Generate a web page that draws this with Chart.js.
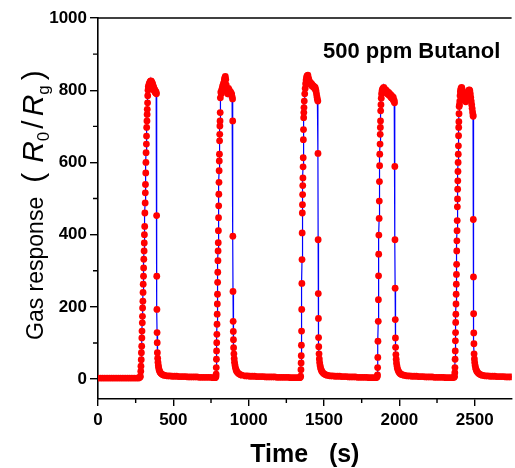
<!DOCTYPE html>
<html lang="en">
<head>
<meta charset="UTF-8" />
<title>Gas response - 500 ppm Butanol</title>
<script src="https://cdn.jsdelivr.net/npm/chart.js"></script>
<style>
  html, body { margin: 0; padding: 0; background: #fff; overflow: hidden; }
  #chart { display: block; }
</style>
</head>
<body>
<canvas id="chart" width="515" height="468"></canvas>
<script>
  // axis ticks
  const xTicks = [0, 500, 1000, 1500, 2000, 2500];
  const xMinorTicks = [250, 750, 1250, 1750, 2250];
  const yTicks = [0, 200, 400, 600, 800, 1000];
  const yMinorTicks = [100, 300, 500, 700, 900];

  // baseline between the pulses (time in s, response)
  const baseTime = [
    0, 15, 30, 45, 60, 75, 90, 105, 120, 135, 150, 165, 180, 195, 210, 225, 240, 255, 270,
    462, 477, 492, 507, 522, 537, 552, 567, 582, 597, 612, 627, 642, 657, 672, 687, 702, 717, 732, 747, 762, 777,
    978, 993, 1008, 1023, 1038, 1053, 1068, 1083, 1098, 1113, 1128, 1143, 1158, 1173, 1188, 1203, 1218, 1233, 1248, 1263, 1278, 1293, 1308, 1323, 1338,
    1543, 1558, 1573, 1588, 1603, 1618, 1633, 1648, 1663, 1678, 1693, 1708, 1723, 1738, 1753, 1768, 1783, 1798, 1813, 1828, 1843,
    2053, 2068, 2083, 2098, 2113, 2128, 2143, 2158, 2173, 2188, 2203, 2218, 2233, 2248, 2263, 2278, 2293, 2308, 2323, 2338, 2353,
    2572, 2587, 2602, 2617, 2632, 2647, 2662, 2677, 2692, 2707, 2722, 2737, 2752
  ];
  const baseResp = [
    3, 3, 3, 3, 3, 3, 3, 3, 3, 3, 3, 3, 3, 3, 3, 3, 3, 3, 3,
    9, 9, 8, 8, 8, 7, 7, 7, 7, 6, 6, 6, 6, 6, 5, 5, 5, 5, 5, 5, 4, 4,
    9, 9, 8, 8, 8, 7, 7, 7, 7, 6, 6, 6, 6, 6, 5, 5, 5, 5, 5, 5, 4, 4, 4, 4, 4,
    9, 9, 8, 8, 8, 7, 7, 7, 6, 6, 6, 6, 5, 5, 5, 5, 5, 4, 4, 4, 4,
    9, 9, 8, 8, 8, 7, 7, 7, 6, 6, 6, 6, 5, 5, 5, 5, 5, 4, 4, 4, 4,
    9, 9, 8, 8, 8, 7, 7, 7, 7, 6, 6, 6, 6
  ];

  // pulse 1
  const time1 = [
    279, 281, 284, 285, 287, 288, 290, 291, 292, 294, 295, 296, 298, 299, 300, 302, 303, 304, 306, 307, 308,
    310, 311, 313, 314, 315, 317, 318, 319, 321, 322, 323, 325, 326, 327, 329, 330,
    332, 334, 336, 338, 340, 342, 344, 346, 348, 350, 352, 354, 356, 358, 360, 362, 364, 366, 368, 370,
    372, 374, 376, 378, 380, 382, 384, 386, 388,
    389, 390, 391, 392, 393, 394, 396, 398, 400, 402, 405, 408, 412, 417, 423, 430, 438, 447
  ];
  const resp1 = [
    5, 8, 22, 36, 54, 73, 91, 114, 133, 156, 174, 197, 216, 240, 263, 285, 308, 332, 355, 377, 400,
    423, 460, 488, 516, 539, 571, 600, 627, 651, 673, 697, 715, 733, 747, 765, 785,
    800, 810, 806, 816, 813, 820, 816, 824, 819, 826, 821, 825, 817, 822, 814, 818, 809, 813, 804, 808,
    799, 803, 797, 800, 794, 797, 792, 795, 790,
    453, 285, 193, 129, 101, 73, 58, 47, 39, 33, 27, 23, 19, 16, 14, 12, 11, 10
  ];

  // pulse 2
  const time2 = [
    781, 783, 784, 785, 786, 787, 788, 789, 790, 791, 792, 793, 794, 795, 796, 797, 798, 799, 800, 801,
    802, 803, 804, 805, 806, 807, 808, 809, 810, 811, 812,
    815, 818, 821, 824, 827, 830, 833, 836, 839, 842, 845, 848, 851, 854, 857, 860, 863, 866, 869, 872,
    875, 878, 881, 884, 887, 890, 893,
    894, 895, 896, 897, 898, 899, 900, 902, 904, 906, 909, 912, 916, 920, 925, 931, 938, 946, 955
  ];
  const resp2 = [
    5, 8, 14, 32, 55, 78, 101, 124, 152, 180, 208, 235, 268, 296, 328, 355, 378, 411, 447, 480,
    512, 545, 577, 604, 623, 660, 678, 701, 715, 738, 779,
    795, 790, 800, 805, 812, 808, 818, 822, 830, 835, 838, 830, 815, 800, 795, 790, 800, 805, 798, 800,
    795, 792, 795, 788, 790, 782, 776,
    715, 396, 243, 160, 132, 109, 87, 70, 57, 47, 39, 32, 26, 22, 19, 16, 14, 12, 11
  ];

  // pulse 3
  const time3 = [
    1343, 1345, 1347, 1348, 1349, 1350, 1351, 1352, 1353, 1354, 1355, 1356, 1357, 1358, 1359, 1360,
    1361, 1362, 1363, 1364, 1365, 1366, 1367,
    1369, 1372, 1375, 1378, 1381, 1384, 1387, 1390, 1393, 1396, 1399, 1402, 1405, 1408, 1411, 1414,
    1417, 1420, 1423, 1426, 1429, 1432, 1435, 1438, 1441, 1444, 1447, 1450, 1453, 1456, 1459,
    1460, 1461, 1462, 1463, 1464, 1465, 1467, 1469, 1471, 1474, 1477, 1481, 1485, 1490, 1496, 1503, 1511, 1520, 1530
  ];
  const resp3 = [
    5, 8, 26, 45, 65, 94, 133, 193, 265, 331, 405, 460, 483, 511, 536, 557,
    588, 613, 663, 691, 724, 738, 752,
    770, 790, 805, 818, 828, 835, 840, 838, 842, 835, 830, 826, 822, 818, 820, 815,
    818, 812, 815, 810, 812, 808, 810, 805, 808, 802, 798, 790, 782, 775, 770,
    625, 386, 237, 168, 115, 90, 70, 56, 46, 38, 31, 26, 22, 19, 16, 14, 12, 11, 10
  ];

  // pulse 4
  const time4 = [
    1851, 1853, 1855, 1856, 1857, 1858, 1860, 1861, 1862, 1863, 1864, 1866, 1867, 1868, 1869, 1870,
    1872, 1873, 1874, 1875, 1876,
    1878, 1880, 1882, 1885, 1888, 1891, 1894, 1897, 1900, 1903, 1906, 1909, 1912, 1915, 1918, 1921,
    1924, 1927, 1930, 1933, 1936, 1939, 1942, 1945, 1948, 1951, 1954, 1957, 1960, 1963, 1966, 1968,
    1970, 1971, 1972, 1973, 1974, 1975, 1977, 1979, 1981, 1984, 1987, 1991, 1995, 2000, 2006, 2013, 2021, 2030, 2040
  ];
  const resp4 = [
    5, 8, 12, 32, 60, 105, 160, 220, 286, 346, 399, 445, 493, 547, 591, 623,
    651, 678, 697, 715, 743,
    760, 778, 790, 798, 802, 805, 800, 808, 803, 798, 802, 795, 800, 792, 797, 790,
    795, 788, 793, 786, 790, 784, 788, 780, 785, 778, 782, 775, 780, 770, 772, 765,
    589, 386, 252, 165, 114, 88, 68, 55, 45, 37, 30, 25, 21, 18, 15, 13, 12, 11, 10
  ];

  // pulse 5
  const time5 = [
    2364, 2366, 2368, 2369, 2370, 2371, 2372, 2373, 2374, 2375, 2376, 2377, 2378, 2379, 2380, 2381,
    2382, 2383, 2384, 2385, 2386, 2387, 2388, 2389, 2390, 2391, 2392, 2393, 2394, 2395, 2396, 2397,
    2399, 2401, 2403, 2405, 2407, 2409, 2411, 2413, 2415, 2417, 2420, 2423, 2426, 2429, 2432, 2435,
    2438, 2441, 2444, 2447, 2450, 2453, 2456, 2459, 2462, 2465, 2468, 2471, 2474, 2477, 2480, 2483, 2486, 2489,
    2490, 2491, 2492, 2493, 2494, 2495, 2496, 2498, 2500, 2503, 2506, 2510, 2514, 2519, 2525, 2532, 2540, 2549, 2559
  ];
  const resp5 = [
    5, 8, 18, 32, 55, 78, 106, 129, 157, 180, 208, 235, 263, 290, 318, 355,
    383, 411, 439, 477, 499, 526, 549, 575, 600, 623, 646, 674, 697, 713, 735, 755,
    760, 770, 785, 795, 800, 805, 802, 808, 806, 800, 795, 790, 785, 780, 775, 772,
    770, 768, 775, 782, 788, 792, 795, 798, 800, 801, 798, 790, 780, 770, 760, 750, 740, 732,
    728, 442, 283, 181, 128, 98, 70, 56, 46, 38, 31, 26, 22, 19, 16, 14, 12, 11, 10
  ];

  const FONT = '"Liberation Sans", Arial, sans-serif';

  const points = [];
  function addSeries(times, values) {
    times.forEach((t, i) => points.push({ x: t, y: values[i] }));
  }
  addSeries(baseTime, baseResp);
  addSeries(time1, resp1);
  addSeries(time2, resp2);
  addSeries(time3, resp3);
  addSeries(time4, resp4);
  addSeries(time5, resp5);
  points.sort((a, b) => a.x - b.x);

  // minor ticks, top frame, annotation and the y title with sub/italics
  const extras = {
    id: 'extras',
    afterDraw(chart) {
      const ctx = chart.ctx;
      const area = chart.chartArea;
      const xs = chart.scales.x;
      const ys = chart.scales.y;
      ctx.save();
      ctx.strokeStyle = '#000';
      ctx.lineWidth = 1.6;
      ctx.beginPath();
      ctx.moveTo(area.left - 0.8, area.top);
      ctx.lineTo(area.right, area.top);
      ctx.stroke();

      ctx.lineWidth = 1.4;
      ctx.beginPath();
      yMinorTicks.forEach(v => {
        const p = ys.getPixelForValue(v);
        ctx.moveTo(area.left - 5, p);
        ctx.lineTo(area.left, p);
      });
      xMinorTicks.forEach(v => {
        const p = xs.getPixelForValue(v);
        ctx.moveTo(p, area.bottom);
        ctx.lineTo(p, area.bottom + 4);
      });
      ctx.stroke();

      ctx.fillStyle = '#000';
      ctx.font = 'bold 22px ' + FONT;
      ctx.textAlign = 'left';
      ctx.textBaseline = 'alphabetic';
      ctx.fillText('500 ppm Butanol', 323, 58);

      // y title, drawn rotated
      const runs = [
        { t: 'Gas response', f: '23px ' + FONT, dy: 0, gap: 14 },
        { t: '(', f: '30px ' + FONT, dy: 0, gap: 10 },
        { t: 'R', f: 'italic 30px ' + FONT, dy: 0, gap: 0 },
        { t: '0', f: '17px ' + FONT, dy: 6, gap: 3 },
        { t: '/', f: '30px ' + FONT, dy: 0, gap: 4 },
        { t: 'R', f: 'italic 30px ' + FONT, dy: 0, gap: 0 },
        { t: 'g', f: '17px ' + FONT, dy: 6, gap: 5 },
        { t: ')', f: '30px ' + FONT, dy: 0, gap: 0 }
      ];
      ctx.translate(43, 340);
      ctx.rotate(-Math.PI / 2);
      let pos = 0;
      runs.forEach(r => {
        ctx.font = r.f;
        ctx.fillText(r.t, pos, r.dy);
        pos += ctx.measureText(r.t).width + r.gap;
      });
      ctx.restore();
    }
  };

  new Chart(document.getElementById('chart'), {
    type: 'scatter',
    data: {
      datasets: [{
        data: points,
        showLine: true,
        borderColor: '#0000ff',
        borderWidth: 1.2,
        pointRadius: 3.4,
        pointHoverRadius: 3.4,
        pointBackgroundColor: '#ff0000',
        pointBorderColor: '#ff0000',
        pointBorderWidth: 0
      }]
    },
    options: {
      responsive: false,
      animation: false,
      devicePixelRatio: 1,
      layout: { padding: { top: 18, right: 0, left: 0, bottom: 0 } },
      plugins: {
        legend: { display: false },
        tooltip: { enabled: false }
      },
      scales: {
        x: {
          type: 'linear',
          min: 0,
          max: 2745,
          afterBuildTicks: s => { s.ticks = xTicks.map(v => ({ value: v })); },
          afterFit: s => { s.height = 69; },
          ticks: {
            autoSkip: false,
            maxRotation: 0,
            padding: 4,
            color: '#000',
            font: { family: FONT, size: 17, weight: 'bold' },
            callback: v => String(v)
          },
          grid: { drawOnChartArea: false, tickLength: 7, color: '#000', lineWidth: 1.4 },
          border: { color: '#000', width: 1.6 },
          title: {
            display: true,
            text: 'Time   (s)',
            color: '#000',
            font: { family: FONT, size: 25, weight: 'bold', lineHeight: 1.0 },
            padding: { top: 0, bottom: 0 }
          }
        },
        y: {
          min: -55,
          max: 1000,
          afterBuildTicks: s => { s.ticks = yTicks.map(v => ({ value: v })); },
          afterFit: s => { s.width = 98; },
          ticks: {
            autoSkip: false,
            padding: 3,
            color: '#000',
            font: { family: FONT, size: 17, weight: 'bold' },
            callback: v => String(v)
          },
          grid: { drawOnChartArea: false, tickLength: 8, color: '#000', lineWidth: 1.4 },
          border: { color: '#000', width: 1.6 }
        }
      }
    },
    plugins: [extras]
  });
</script>
</body>
</html>
